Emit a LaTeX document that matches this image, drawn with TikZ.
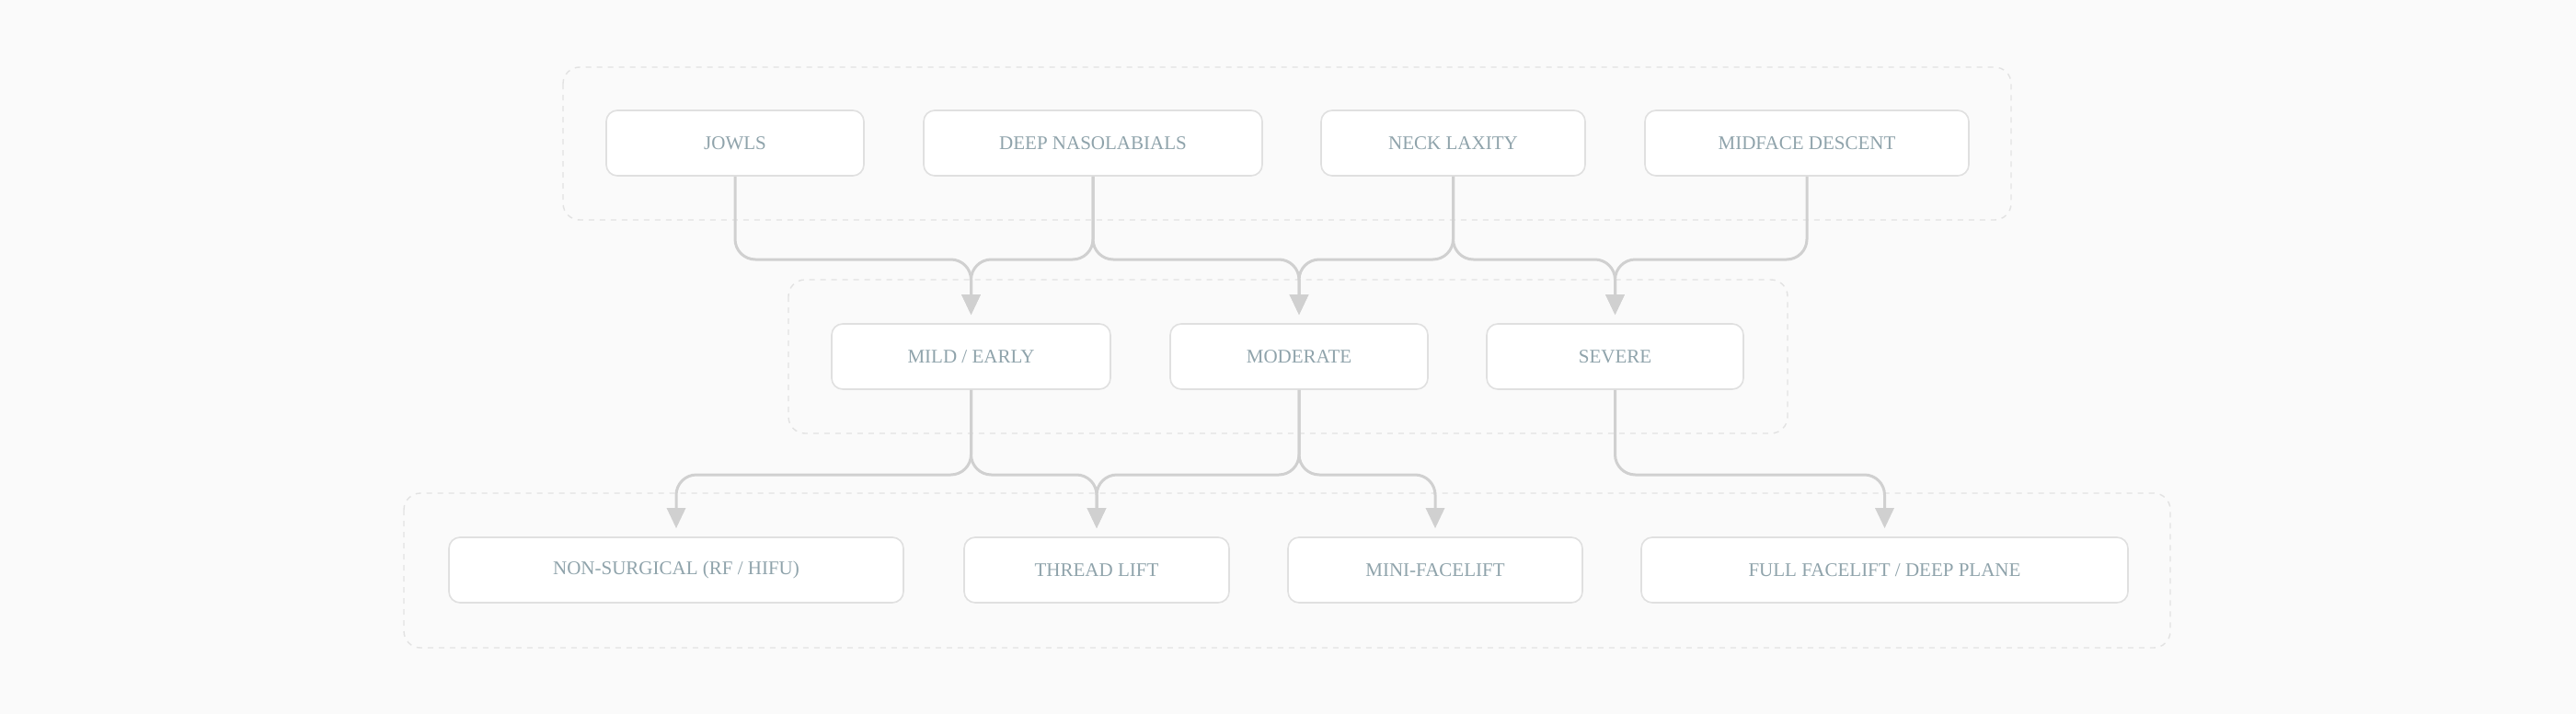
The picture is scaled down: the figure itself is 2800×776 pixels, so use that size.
\documentclass[tikz,border=0pt]{standalone}
\usepackage{fontspec}
\setmainfont{Liberation Serif}
\usetikzlibrary{arrows.meta}
\definecolor{bg}{HTML}{FAFAFA}
\definecolor{bord}{HTML}{E0E0E0}
\definecolor{grp}{HTML}{E2E2E2}
\definecolor{txt}{HTML}{8FA3AB}
\definecolor{ln}{HTML}{D0D0D0}
\tikzset{
 box/.style={draw=bord,line width=0.8pt,fill=white,rounded corners=6pt,minimum height=35.5pt,inner sep=0pt,text=txt,font=\fontsize{10.5}{12}\selectfont},
 grpbox/.style={draw=grp,dashed,line width=0.7pt,rounded corners=9pt},
 edge/.style={draw=ln,line width=1.5pt,rounded corners=11pt,-{Triangle[width=10pt,length=11pt]},shorten >=4.5pt}
}
\begin{document}
\begin{tikzpicture}[x=0.5pt,y=-0.5pt]
\fill[bg] (0,0) rectangle (2800,776);
\useasboundingbox (0,0) rectangle (2800,776);
\draw[grpbox] (612,73) rectangle (2186,239);
\draw[grpbox] (857,304) rectangle (1943,471);
\draw[grpbox] (439,536) rectangle (2359,704);
\node[box,minimum width=140pt] (jowls) at (799,155.5) {JOWLS};
\node[box,minimum width=184pt] (deep) at (1188,155.5) {DEEP NASOLABIALS};
\node[box,minimum width=143.5pt] (neck) at (1579.5,155.5) {NECK LAXITY};
\node[box,minimum width=176pt] (mid) at (1964,155.5) {MIDFACE DESCENT};
\node[box,minimum width=151.5pt] (mild) at (1055.5,387.5) {MILD / EARLY};
\node[box,minimum width=140pt] (mod) at (1412,387.5) {MODERATE};
\node[box,minimum width=139.5pt] (sev) at (1755.5,387.5) {SEVERE};
\node[box,minimum width=247pt] (non) at (735,619.5) {NON-SURGICAL (RF / HIFU)};
\node[box,minimum width=144pt] (thr) at (1192,619.5) {THREAD LIFT};
\node[box,minimum width=160pt] (mini) at (1560,619.5) {MINI-FACELIFT};
\node[box,minimum width=264.5pt] (full) at (2048.5,619.5) {FULL FACELIFT / DEEP PLANE};
\foreach \a/\b in {jowls/mild,deep/mild,deep/mod,neck/mod,neck/sev,mid/sev}
  \draw[edge] (\a.south) -- (\a.south |- 0,282) -| (\b.north);
\foreach \a/\b in {mild/non,mild/thr,mod/thr,mod/mini,sev/full}
  \draw[edge] (\a.south) -- (\a.south |- 0,516) -| (\b.north);
\end{tikzpicture}
\end{document}
